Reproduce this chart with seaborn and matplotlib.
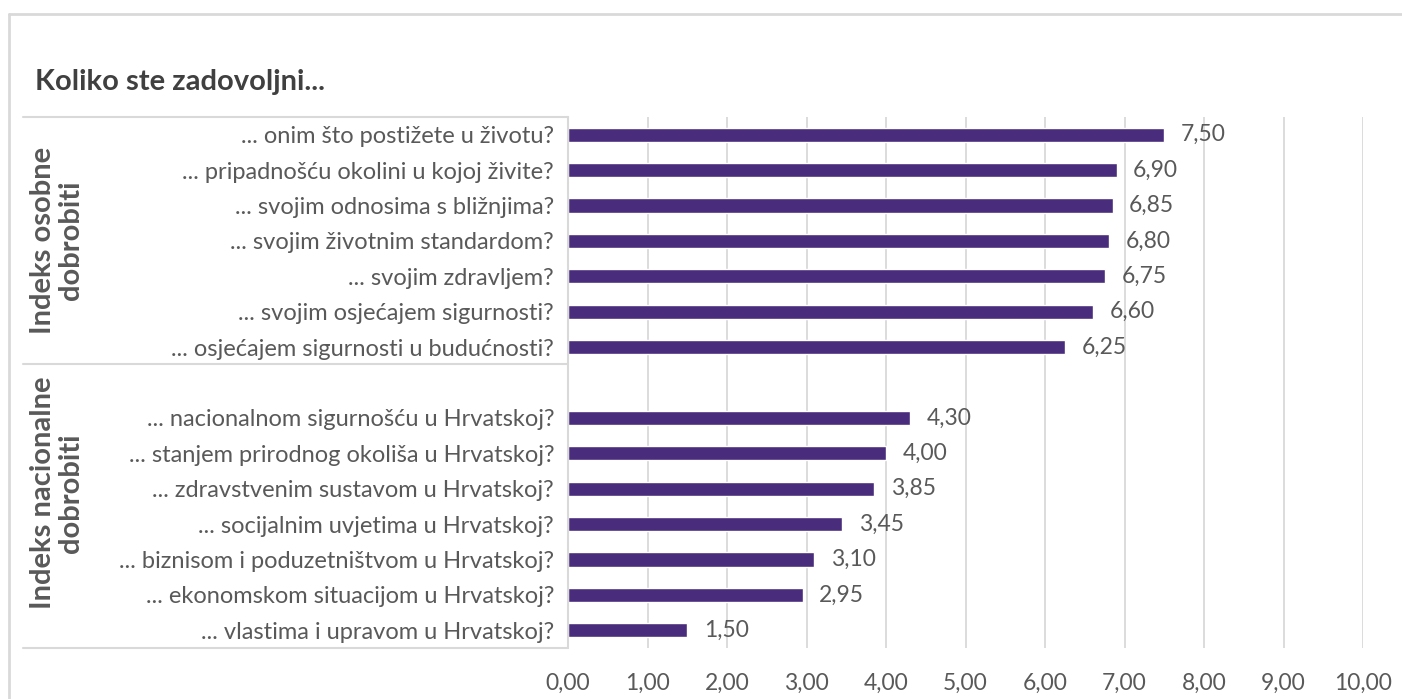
import matplotlib
matplotlib.use("Agg")
import matplotlib.pyplot as plt
import seaborn as sns
import pandas as pd
from matplotlib.lines import Line2D

title = "Koliko ste zadovoljni..."
group_labels = ["Indeks osobne\ndobrobiti", "Indeks nacionalne\ndobrobiti"]
personal_items = [
    "... onim što postižete u životu?",
    "... pripadnošću okolini u kojoj živite?",
    "... svojim odnosima s bližnjima?",
    "... svojim životnim standardom?",
    "... svojim zdravljem?",
    "... svojim osjećajem sigurnosti?",
    "... osjećajem sigurnosti u budućnosti?",
]
personal_values = [7.50, 6.90, 6.85, 6.80, 6.75, 6.60, 6.25]
national_items = [
    "... nacionalnom sigurnošću u Hrvatskoj?",
    "... stanjem prirodnog okoliša u Hrvatskoj?",
    "... zdravstvenim sustavom u Hrvatskoj?",
    "... socijalnim uvjetima u Hrvatskoj?",
    "... biznisom i poduzetništvom u Hrvatskoj?",
    "... ekonomskom situacijom u Hrvatskoj?",
    "... vlastima i upravom u Hrvatskoj?",
]
national_values = [4.30, 4.00, 3.85, 3.45, 3.10, 2.95, 1.50]
x_ticks = [0, 1, 2, 3, 4, 5, 6, 7, 8, 9, 10]

sns.set_theme(style="white")
plt.rcParams['font.family'] = ['Lato', 'DejaVu Sans']

W, H = 1402, 699
TXT = "#595959"
GRID = "#D9D9D9"
BAR = "#4A2C7C"

df = pd.DataFrame({"item": personal_items + national_items,
                   "value": personal_values + national_values})
spacer = " "
order = personal_items + [spacer] + national_items

fig = plt.figure(figsize=(W / 100, H / 100), dpi=100)
fig.patch.set_facecolor("white")

def fx(px):
    return px / W

def fy(py):
    return 1 - py / H

ax = fig.add_axes([fx(568), fy(648), fx(1363) - fx(568), fy(117) - fy(648)])
sns.barplot(data=df, y="item", x="value", order=order, orient="h",
            color=BAR, width=0.4, saturation=1, errorbar=None, ax=ax)

for c in ax.containers:
    labs = [f"{v:.2f}".replace(".", ",") for v in c.datavalues]
    ax.bar_label(c, labels=labs, padding=12, fontsize=16.5, color=TXT)

ax.set_xlim(0, 10)
ax.set_xticks(x_ticks)
ax.set_xticklabels([f"{v:.2f}".replace(".", ",") for v in x_ticks])
ax.grid(axis="x", color=GRID, lw=1.3)
ax.grid(axis="y", visible=False)
ax.set_axisbelow(True)
for s in ax.spines.values():
    s.set_visible(False)
ax.set_xlabel("")
ax.set_ylabel("")
ax.tick_params(axis="x", length=0, pad=18, labelsize=16.5, labelcolor=TXT)
ax.tick_params(axis="y", length=0, pad=10, labelsize=17, labelcolor=TXT)

# label table lines
lw = 1.5
for y in (117, 364, 648):
    fig.add_artist(Line2D([fx(23), fx(568)], [fy(y), fy(y)], color=GRID, lw=lw))
fig.add_artist(Line2D([fx(568), fx(568)], [fy(117), fy(648)], color=GRID, lw=lw))

# outer border
fig.add_artist(Line2D([fx(9), fx(W)], [fy(14), fy(14)], color=GRID, lw=2))
fig.add_artist(Line2D([fx(9), fx(9)], [fy(14), fy(H)], color=GRID, lw=2))

fig.text(fx(35), fy(82), title, fontsize=21, fontweight="bold", color="#404040",
         ha="left", va="center")

fig.text(fx(57), fy(240), group_labels[0], fontsize=21, fontweight="bold", color=TXT,
         rotation=90, ha="center", va="center", linespacing=1.05, multialignment="center")
fig.text(fx(57), fy(493), group_labels[1], fontsize=21, fontweight="bold", color=TXT,
         rotation=90, ha="center", va="center", linespacing=1.05, multialignment="center")

fig.savefig("out.png", dpi=100)
